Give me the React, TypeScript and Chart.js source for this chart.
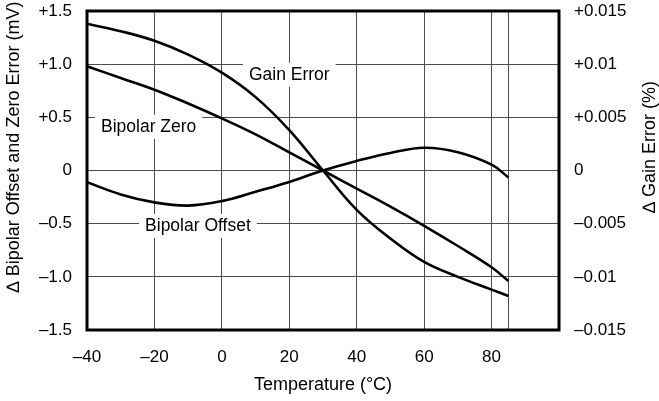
import React, { useEffect, useRef } from 'react';
import { Chart, registerables } from 'chart.js';

Chart.register(...registerables);

// Temperature (°C)
const temperatures = [-40, -30, -20, -10, 0, 10, 20, 30, 40, 50, 60, 70, 80, 85];
// Δ Gain Error (%), right axis
const gainErrorPct = [0.0138, 0.0131, 0.0122, 0.0109, 0.0092, 0.0069, 0.0038, 0.0, -0.0037, -0.0064, -0.0086, -0.01, -0.0112, -0.0118];
// Δ Bipolar Zero (mV), left axis
const bipolarZero = [0.98, 0.87, 0.76, 0.63, 0.49, 0.34, 0.17, 0.0, -0.17, -0.34, -0.52, -0.71, -0.91, -1.04];
// Δ Bipolar Offset (mV), left axis
const bipolarOffset = [-0.11, -0.225, -0.3, -0.33, -0.288, -0.2, -0.108, 0.0, 0.09, 0.165, 0.214, 0.172, 0.055, -0.065];

const xTickValues = [-40, -20, 0, 20, 40, 60, 80, 85, 100];
const xTickLabels = ['–40', '–20', '0', '20', '40', '60', '80', '', ''];
const leftTickValues = [-1.5, -1.0, -0.5, 0, 0.5, 1.0, 1.5];
const leftTickLabels = ['–1.5', '–1.0', '–0.5', '0', '+0.5', '+1.0', '+1.5'];
const rightTickValues = [-0.015, -0.01, -0.005, 0, 0.005, 0.01, 0.015];
const rightTickLabels = ['–0.015', '–0.01', '–0.005', '0', '+0.005', '+0.01', '+0.015'];

const curveNames = ['Gain Error', 'Bipolar Zero', 'Bipolar Offset'];

const FONT = '"Liberation Sans", Arial, Helvetica, sans-serif';

export default function App() {
  const canvasRef = useRef<HTMLCanvasElement | null>(null);

  useEffect(() => {
    const canvas = canvasRef.current;
    if (!canvas) return;

    // label anchors (data units, left axis)
    const anchors = [
      { text: curveNames[0], x: 20, y: 0.9 },
      { text: curveNames[1], x: -21.7, y: 0.41 },
      { text: curveNames[2], x: -7.1, y: -0.52 },
    ];

    const overlay = {
      id: 'overlay',
      beforeDatasetsDraw(chart: any) {
        const { ctx } = chart;
        const xs = chart.scales.x;
        const ys = chart.scales.y;
        ctx.save();
        ctx.font = `17.5px ${FONT}`;
        ctx.textAlign = 'center';
        ctx.textBaseline = 'middle';
        for (const a of anchors) {
          const px = xs.getPixelForValue(a.x);
          const py = ys.getPixelForValue(a.y);
          const w = ctx.measureText(a.text).width + 12;
          ctx.fillStyle = '#ffffff';
          ctx.fillRect(px - w / 2, py - 12, w, 24);
          ctx.fillStyle = '#000000';
          ctx.fillText(a.text, px, py + 0.5);
        }
        ctx.restore();
      },
      afterDatasetsDraw(chart: any) {
        const { ctx, chartArea } = chart;
        const { left, top, right, bottom } = chartArea;
        ctx.save();
        ctx.strokeStyle = '#000';
        ctx.lineWidth = 3;
        ctx.strokeRect(left, top, right - left, bottom - top);

        ctx.fillStyle = '#000';
        ctx.font = `18px ${FONT}`;
        ctx.textAlign = 'center';
        ctx.textBaseline = 'middle';
        ctx.fillText('Temperature (°C)', (left + right) / 2, 385);

        ctx.save();
        ctx.translate(14, 147);
        ctx.rotate(-Math.PI / 2);
        ctx.fillText('∆ Bipolar Offset and Zero Error (mV)', 0, 0);
        ctx.restore();

        ctx.save();
        ctx.translate(650, 147);
        ctx.rotate(-Math.PI / 2);
        ctx.fillText('∆ Gain Error (%)', 0, 0);
        ctx.restore();

        ctx.restore();
      },
    };

    const lineStyle = {
      borderColor: '#000',
      borderWidth: 2.6,
      pointRadius: 0,
      fill: false,
      tension: 0.4,
    };

    const tickFont = { family: FONT, size: 17 };

    const chart = new Chart(canvas, {
      type: 'line',
      data: {
        datasets: [
          {
            label: curveNames[0],
            data: temperatures.map((t, i) => ({ x: t, y: gainErrorPct[i] })),
            yAxisID: 'y1',
            ...lineStyle,
          },
          {
            label: curveNames[1],
            data: temperatures.map((t, i) => ({ x: t, y: bipolarZero[i] })),
            yAxisID: 'y',
            ...lineStyle,
          },
          {
            label: curveNames[2],
            data: temperatures.map((t, i) => ({ x: t, y: bipolarOffset[i] })),
            yAxisID: 'y',
            ...lineStyle,
          },
        ],
      },
      options: {
        responsive: false,
        animation: false,
        events: [],
        layout: { padding: 0 },
        plugins: {
          legend: { display: false },
          tooltip: { enabled: false },
        },
        scales: {
          x: {
            type: 'linear',
            min: -40,
            max: 100,
            afterBuildTicks: (scale: any) => {
              scale.ticks = xTickValues.map((v) => ({ value: v }));
            },
            afterFit: (scale: any) => {
              scale.height = 71;
              scale.paddingLeft = 0;
              scale.paddingRight = 0;
            },
            ticks: {
              autoSkip: false,
              maxRotation: 0,
              padding: 17,
              color: '#000',
              font: tickFont,
              callback: (_v: any, i: number) => xTickLabels[i],
            },
            grid: { color: '#4d4d4d', lineWidth: 1, drawTicks: false },
            border: { display: false },
          },
          y: {
            type: 'linear',
            position: 'left',
            min: -1.5,
            max: 1.5,
            afterBuildTicks: (scale: any) => {
              scale.ticks = leftTickValues.map((v) => ({ value: v }));
            },
            afterFit: (scale: any) => {
              scale.width = 87;
              scale.paddingTop = 11;
              scale.paddingBottom = 0;
            },
            ticks: {
              padding: 15,
              color: '#000',
              font: tickFont,
              callback: (_v: any, i: number) => leftTickLabels[i],
            },
            grid: { color: '#4d4d4d', lineWidth: 1, drawTicks: false },
            border: { display: false },
          },
          y1: {
            type: 'linear',
            position: 'right',
            min: -0.015,
            max: 0.015,
            afterBuildTicks: (scale: any) => {
              scale.ticks = rightTickValues.map((v) => ({ value: v }));
            },
            afterFit: (scale: any) => {
              scale.width = 100;
              scale.paddingTop = 11;
              scale.paddingBottom = 0;
            },
            ticks: {
              padding: 15,
              color: '#000',
              font: tickFont,
              callback: (_v: any, i: number) => rightTickLabels[i],
            },
            grid: { display: false, drawTicks: false },
            border: { display: false },
          },
        },
      },
      plugins: [overlay],
    });

    return () => {
      chart.destroy();
    };
  }, []);

  return (
    <div style={{ position: 'fixed', left: 0, top: 0, width: 659, height: 401, background: '#fff' }}>
      <canvas ref={canvasRef} width={659} height={401} style={{ display: 'block' }} />
    </div>
  );
}
